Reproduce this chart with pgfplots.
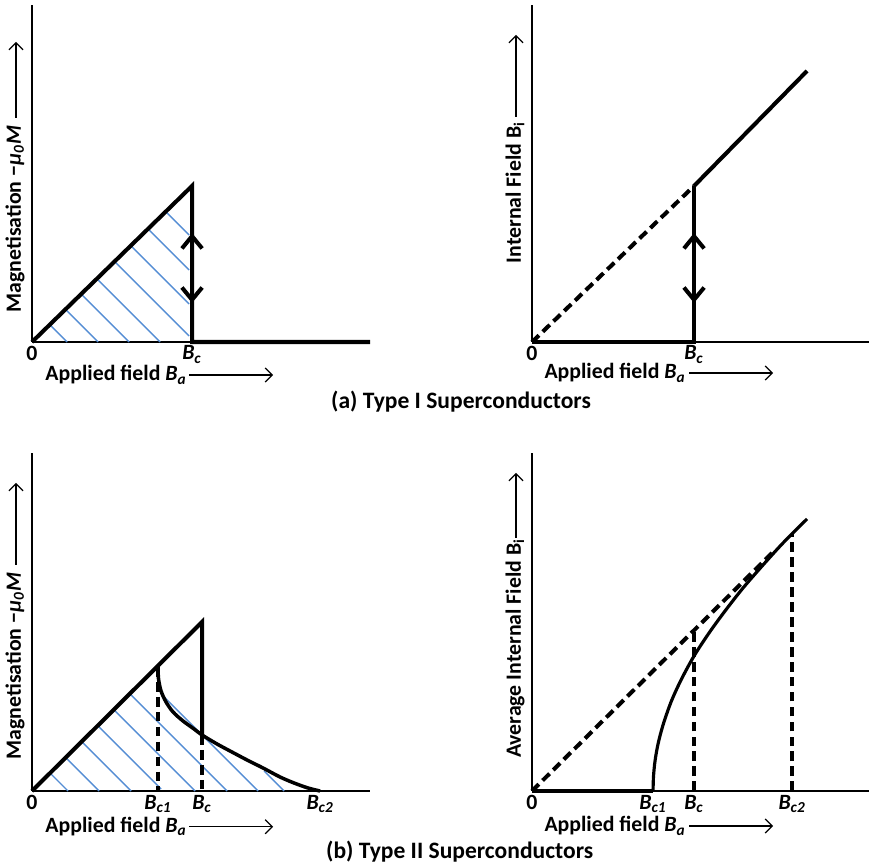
\documentclass[border=0pt]{standalone}
\usepackage{pgfplots}
\pgfplotsset{compat=1.18}
\usepackage{fontspec}
\setmainfont{Carlito}
\usetikzlibrary{arrows.meta}
\definecolor{hatchblue}{RGB}{84,141,212}
\newcommand{\lab}{\fontsize{12.4}{14}\selectfont\bfseries}

\pgfplotsset{
  panel/.style={
    x=0.02cm, y=0.02cm, anchor=origin,
    axis lines=left, axis line style={-, line width=1.1pt},
    xmin=0, ymin=0, clip=false,
    ytick=\empty, major tick length=0pt,
    xticklabel style={font=\lab, inner sep=2pt},
    cycle list={{black}},
    every axis plot/.append style={black, line width=2.3pt, no markers},
  },
  hatch/.style={hatchblue, line width=0.8pt, unbounded coords=jump},
  dash/.style={dash pattern=on 5.5pt off 3pt},
  vhead/.style={-{Straight Barb[length=7pt,width=11.5pt]}},
}
\tikzset{lblarrow/.style={line width=0.7pt, -{Straight Barb[length=4pt,width=8pt]}}}

\begin{document}
\begin{tikzpicture}
\useasboundingbox (0,0) rectangle (17.38,17.28);

% (a) magnetisation, type I
\begin{axis}[panel, at={(0.64cm,10.44cm)}, xmax=338, ymax=337,
  xtick={0,160}, xticklabels={0,{\textit{B}\textsubscript{\textit{c}}}}]
\addplot[hatch] coordinates {(17.7,17.3)(35,0) (nan,nan) (33.4,32.6)(66,0) (nan,nan)
  (49.1,47.9)(97,0) (nan,nan) (64.8,63.2)(128,0) (nan,nan) (82.5,80.5)(157,6) (nan,nan)
  (98.7,96.3)(157,38) (nan,nan) (116,113)(157,72) (nan,nan) (133.7,130.3)(157,107)};
\addplot coordinates {(0,0)(160,156)(160,0)(338,0)};
\addplot[vhead] coordinates {(160,80)(160,109)};
\addplot[vhead] coordinates {(160,70)(160,39)};
\node[rotate=90, font=\lab] at (axis cs:-17,123) {Magnetisation −\textit{μ}\textsubscript{\textit{0}}\textit{M}};
\draw[lblarrow] (axis cs:-16,224) -- (axis cs:-16,300);
\node[font=\lab] at (axis cs:84,-33) {Applied field \textit{B}\textsubscript{\textit{a}}};
\draw[lblarrow] (axis cs:157,-33) -- (axis cs:241,-33);
\end{axis}

% (a) internal field, type I
\begin{axis}[panel, at={(10.64cm,10.44cm)}, xmax=337, ymax=337,
  xtick={0,162}, xticklabels={0,{\textit{B}\textsubscript{\textit{c}}}}]
\addplot[dash] coordinates {(0,0)(162,156)};
\addplot coordinates {(162,156)(275,271)};
\addplot coordinates {(0,0)(162,0)(162,156)};
\addplot[vhead] coordinates {(162,80)(162,109)};
\addplot[vhead] coordinates {(162,70)(162,39)};
\node[rotate=90, font=\lab] at (axis cs:-17,149.5) {Internal Field B\textsubscript{i}};
\draw[lblarrow] (axis cs:-16,225) -- (axis cs:-16,307);
\node[font=\lab] at (axis cs:83,-31) {Applied field \textit{B}\textsubscript{\textit{a}}};
\draw[lblarrow] (axis cs:157,-31) -- (axis cs:241,-31);
\end{axis}

% (b) magnetisation, type II
\begin{axis}[panel, at={(0.64cm,1.46cm)}, xmax=338, ymax=338,
  xtick={0,126,170,288},
  xticklabels={0,{\textit{B}\textsubscript{\textit{c1}}},{\textit{B}\textsubscript{\textit{c}}},{\textit{B}\textsubscript{\textit{c2}}}}]
\addplot[hatch] coordinates {(18,18)(36,0) (nan,nan) (33.6,33.4)(67,0) (nan,nan)
  (49.6,49.4)(99,0) (nan,nan) (65.7,65.3)(129,2) (nan,nan) (81.7,81.3)(163,0) (nan,nan)
  (97.8,97.2)(195,0) (nan,nan) (129,97)(226,0) (nan,nan) (232,20)(252,0)};
\addplot coordinates {(0,0)(170,169)(170,56)};
\addplot[dash] coordinates {(170,56)(170,0)};
\addplot[dash] coordinates {(126,124)(126,0)};
\addplot[smooth, line width=2pt] coordinates {(126,124)(126.5,112)(129,100)(134,89)(141,79)
  (151,70)(162,62)(170,56)(185,47)(198,40)(215,31)(231,23)(248,14)(262,8)(276,3)(288,0)};
\node[rotate=90, font=\lab] at (axis cs:-17,125) {Magnetisation −\textit{μ}\textsubscript{\textit{0}}\textit{M}};
\draw[lblarrow] (axis cs:-16,226) -- (axis cs:-16,308);
\node[font=\lab] at (axis cs:84,-35.7) {Applied field \textit{B}\textsubscript{\textit{a}}};
\draw[lblarrow] (axis cs:157,-35.7) -- (axis cs:241,-35.7);
\end{axis}

% (b) internal field, type II
\begin{axis}[panel, at={(10.64cm,1.46cm)}, xmax=337, ymax=338,
  xtick={0,121,162,260},
  xticklabels={0,{\textit{B}\textsubscript{\textit{c1}}},{\textit{B}\textsubscript{\textit{c}}},{\textit{B}\textsubscript{\textit{c2}}}}]
\addplot[dash] coordinates {(0,0)(240,238)};
\addplot[dash] coordinates {(162,0)(162,159)};
\addplot[dash] coordinates {(260,0)(260,257)};
\addplot coordinates {(0,0)(121,0)};
\addplot[smooth, line width=1.8pt] coordinates {(121,0)(121.5,15)(123,30)(126,47)(131,66)
  (139,89)(149,111)(162,135)(177,158)(193,180)(211,203)(231,226)(251,248)(275,272)};
\node[rotate=90, font=\lab] at (axis cs:-17,142.5) {Average Internal Field B\textsubscript{i}};
\draw[lblarrow] (axis cs:-16,253) -- (axis cs:-16,318);
\node[font=\lab] at (axis cs:83,-35) {Applied field \textit{B}\textsubscript{\textit{a}}};
\draw[lblarrow] (axis cs:157,-35) -- (axis cs:241,-35);
\end{axis}

\node[font=\fontsize{13.4}{16}\selectfont\bfseries, anchor=base west] at (6.5,9.12) {(a) Type I Superconductors};
\node[font=\fontsize{13.4}{16}\selectfont\bfseries, anchor=base west] at (6.4,0.12) {(b) Type II Superconductors};
\end{tikzpicture}
\end{document}
